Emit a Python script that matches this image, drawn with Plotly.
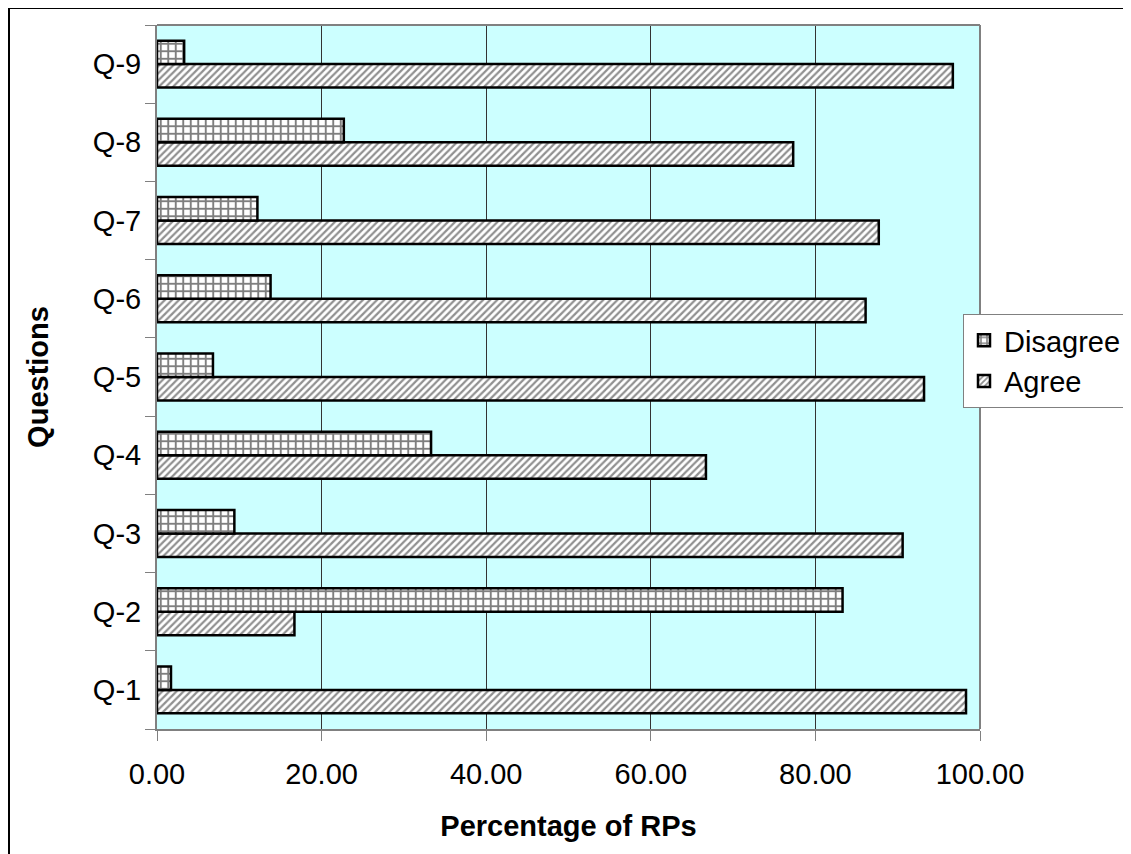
import plotly.graph_objects as go

questions = ["Q-1", "Q-2", "Q-3", "Q-4", "Q-5", "Q-6", "Q-7", "Q-8", "Q-9"]
agree = [98.3, 16.7, 90.6, 66.7, 93.2, 86.1, 87.7, 77.3, 96.7]
disagree = [1.7, 83.3, 9.4, 33.3, 6.8, 13.8, 12.2, 22.7, 3.3]
x_ticks = [0, 20, 40, 60, 80, 100]

FONT = "Liberation Sans, Arial, sans-serif"
FS = 29

fig = go.Figure()
fig.add_trace(go.Bar(
    y=questions, x=agree, name="Agree", orientation="h",
    marker=dict(color="white", line=dict(color="black", width=2.5),
                pattern=dict(shape="/", bgcolor="white", fgcolor="#222222",
                             size=5, solidity=0.45, fillmode="overlay")),
))
fig.add_trace(go.Bar(
    y=questions, x=disagree, name="Disagree", orientation="h",
    marker=dict(color="white", line=dict(color="black", width=2.5),
                pattern=dict(shape="+", bgcolor="white", fgcolor="black",
                             size=7.5, solidity=0.45, fillmode="overlay")),
))

# page has an 8px body margin; figure coordinates = page - 8
W, H = 1123, 846
L, T = 149, 17
PR, PB = 972, 721
R, B = W - PR, H - PB
pw, ph = PR - L, PB - T

fig.update_layout(
    width=W, height=H,
    margin=dict(l=L, r=R, t=T, b=B, autoexpand=False),
    paper_bgcolor="white", plot_bgcolor="#CCFFFF",
    barmode="group", bargap=0.4, bargroupgap=0,
    font=dict(family=FONT, size=FS, color="black"),
    showlegend=True,
    legend=dict(traceorder="reversed", x=(955 - L) / pw, y=1 - (306 - T) / ph,
                xanchor="left", yanchor="top", bgcolor="white",
                bordercolor="#808080", borderwidth=1,
                font=dict(size=FS, family=FONT), itemwidth=30,
                tracegroupgap=0),
    xaxis=dict(range=[0, 100], tickvals=x_ticks, tickformat=".2f",
               showgrid=True, gridcolor="#333333", gridwidth=1,
               ticks="outside", ticklen=10, tickcolor="#808080",
               showline=True, linecolor="#808080", linewidth=2,
               ticklabelstandoff=8, zeroline=False,
               title=dict(text="<b>Percentage of RPs</b>", standoff=27,
                          font=dict(size=FS, family=FONT))),
    yaxis=dict(categoryorder="array", categoryarray=questions,
               ticks="outside", ticklen=10, tickcolor="#808080",
               tickson="boundaries", showgrid=False, ticklabelstandoff=8,
               showline=True, linecolor="#808080", linewidth=2,
               title=dict(text="<b>Questions</b>", standoff=36,
                          font=dict(size=FS, family=FONT))),
    shapes=[
        dict(type="rect", xref="paper", yref="paper",
             x0=(1 - L) / pw, x1=(1121 - L) / pw,
             y0=-0.5, y1=1 + (T - 0) / ph,
             line=dict(color="black", width=2), layer="below"),
        dict(type="line", xref="paper", yref="paper", x0=0, x1=1, y0=1, y1=1,
             line=dict(color="#808080", width=2)),
        dict(type="line", xref="paper", yref="paper", x0=1, x1=1, y0=0, y1=1,
             line=dict(color="#808080", width=2)),
    ],
)

fig.write_html("out.html")
